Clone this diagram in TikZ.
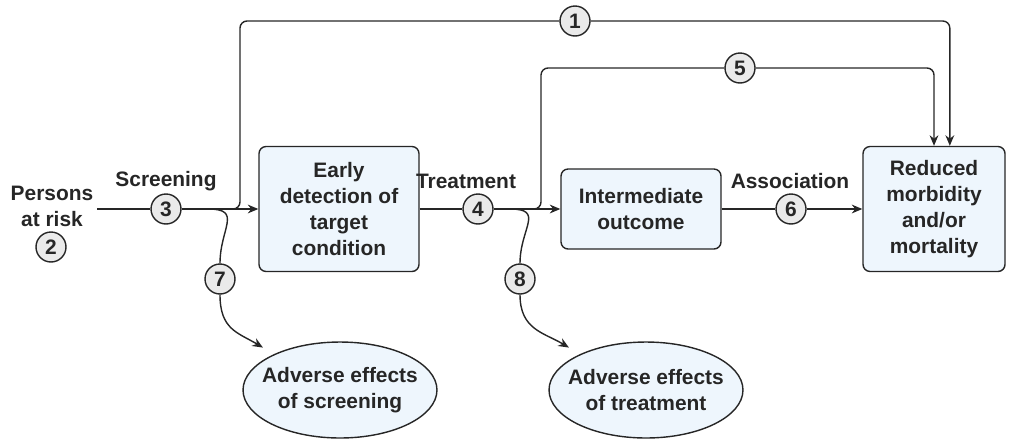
\documentclass[tikz,border=0pt]{standalone}
\usepackage{fontspec}
\setmainfont{Liberation Sans}
\usetikzlibrary{arrows.meta,shapes.geometric}
\definecolor{boxfill}{RGB}{238,246,253}
\definecolor{numfill}{RGB}{234,234,234}
\definecolor{edge}{RGB}{38,38,38}

\begin{document}
\begin{tikzpicture}[x=0.02cm, y=-0.02cm, line width=0.8pt, color=edge,
        font=\fontsize{11.9}{14.7}\selectfont\bfseries,
        box/.style={draw, fill=boxfill, rounded corners=4pt, align=center, inner sep=0pt},
        num/.style={circle, draw, fill=numfill, minimum size=0.6cm, inner sep=0pt},
        effect/.style={ellipse, draw, fill=boxfill, align=center, minimum width=3.88cm,
            minimum height=1.92cm, inner xsep=-6pt, inner ysep=0pt},
        arr/.style={-{Stealth[length=6pt,width=5pt]}}]
        \useasboundingbox (0,0) rectangle (1013,440);
        \node[align=center] (persons) at (52,206) {Persons\\at risk};
        \node[num] (c2) at (51,247) {2};
        \node (scr) at (166,181) {Screening};
        \node[num] (c3) at (166,209) {3};
        \node[box, minimum width=3.2cm, minimum height=2.5cm] (early) at (339,209) {Early\\detection of\\target\\condition};
        \node (treat) at (466,181) {Treatment};
        \node[num] (c4) at (478,209) {4};
        \node[box, minimum width=3.2cm, minimum height=1.6cm] (inter) at (641,209) {Intermediate\\outcome};
        \node (assoc) at (790,181) {Association};
        \node[num] (c6) at (791,209) {6};
        \node[box, minimum width=2.84cm, minimum height=2.5cm] (red) at (934,209) {Reduced\\morbidity\\and/or\\mortality};
        \node[num] (c1) at (575,21) {1};
        \node[num] (c5) at (740,68) {5};
        \node[num] (c7) at (220,279) {7};
        \node[num] (c8) at (520,279) {8};
        \node[effect] (ad1) at (340,390) {Adverse effects\\of screening};
        \node[effect] (ad2) at (646,390) {Adverse effects\\of treatment};
        \coordinate (start) at (97,209);
        \coordinate (j1) at (240,209);
        \coordinate (j5) at (541,209);
        \coordinate (b7) at (208,209);
        \coordinate (b8) at (510,209);

        \draw (start) -- (c3);
        \draw[arr] (c3) -- (early);
        \draw (early) -- (c4);
        \draw[arr] (c4) -- (inter);
        \draw (inter) -- (c6);
        \draw[arr] (c6) -- (red);

        \draw[rounded corners=4pt] ([xshift=-5pt]j1) -- (j1) |- (c1);
        \draw[arr, rounded corners=4pt] (c1) -| ([xshift=9pt]red.north);
        \draw[rounded corners=4pt] ([xshift=-5pt]j5) -- (j5) |- (c5);
        \draw[arr, rounded corners=4pt] (c5) -| (red.north);

        \draw (b7) .. controls +(35,0) and +(0,-35) .. (c7.north);
        \draw[arr] (c7.south) .. controls +(0,35) and +(-25,-15) .. ([shift={(-8,-8)}]ad1.north west);
        \draw (b8) .. controls +(35,0) and +(0,-35) .. (c8.north);
        \draw[arr] (c8.south) .. controls +(0,35) and +(-25,-15) .. ([shift={(-8,-8)}]ad2.north west);
    \end{tikzpicture}
\end{document}
